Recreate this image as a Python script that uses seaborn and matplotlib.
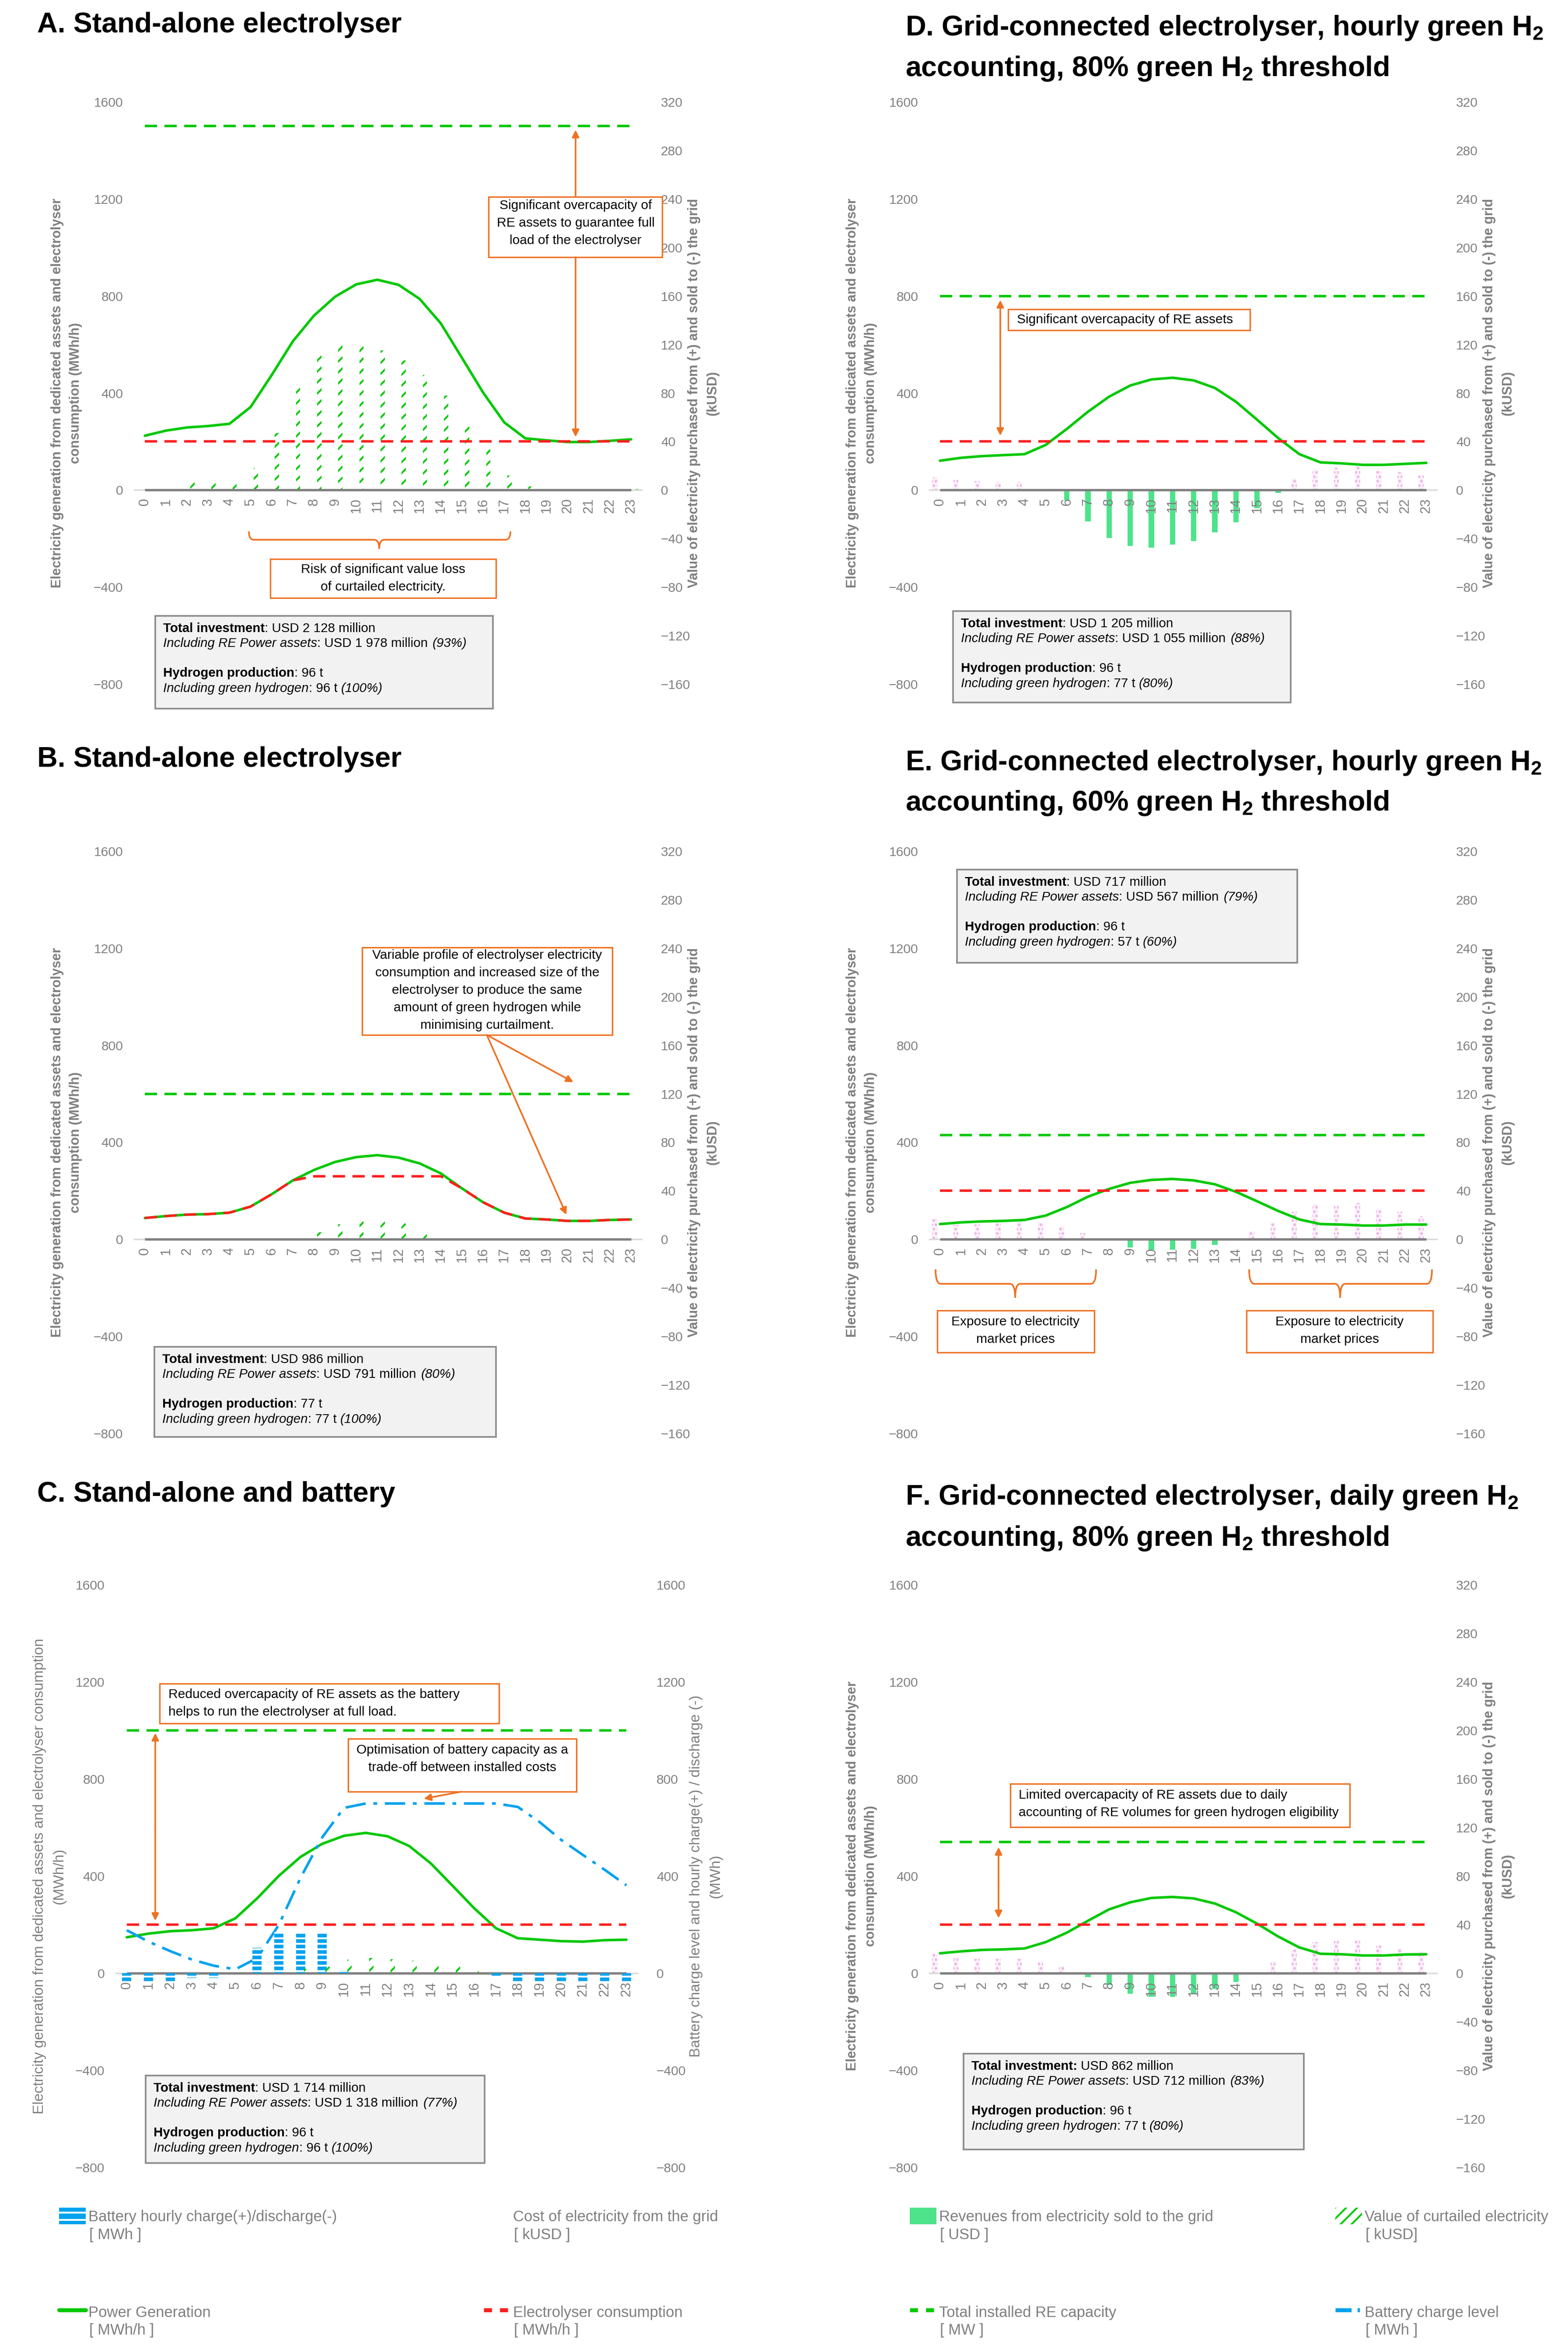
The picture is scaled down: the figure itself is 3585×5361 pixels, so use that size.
import numpy as np
import matplotlib
matplotlib.use("Agg")
import matplotlib.pyplot as plt
import matplotlib.transforms as mtransforms
from matplotlib.patches import Rectangle, Patch, PathPatch
from matplotlib.lines import Line2D
from matplotlib.path import Path
from matplotlib.text import Annotation
import seaborn as sns

# --- DATA ---
HOURS = np.arange(24)

# A. stand-alone electrolyser (MWh/h, kUSD)
GEN_A = [224, 245, 258, 264, 273, 342, 474, 613, 719, 797, 848, 867,
         846, 788, 687, 545, 402, 279, 213, 205, 198, 198, 203, 209]
CURT_A = [2, 1, 7, 7, 8, 18, 47, 87, 112, 122, 122, 115,
          107, 95, 78, 56, 35, 12, 3, 1, 0, 0, 0, 1]
CAP_A = 1500
CONS_A = 200

# B. stand-alone electrolyser, variable load
GEN_B = [88, 96, 102, 104, 110, 135, 186, 243, 286, 319, 339, 347,
         337, 313, 272, 210, 153, 110, 86, 82, 76, 76, 80, 82]
CONS_B = [88, 96, 102, 104, 110, 135, 186, 243, 260, 260, 260, 260,
          260, 260, 260, 210, 153, 110, 86, 82, 76, 76, 80, 82]
CURT_B = [0, 0, 0, 0, 0, 0, 0, 0, 6, 12.5, 15, 15,
          13, 6.7, 1, 0, 0, 0, 0, 0, 0, 0, 0, 0]
CAP_B = 600

# C. stand-alone and battery
GEN_C = [148, 163, 173, 177, 185, 226, 308, 401, 479, 533, 566, 578,
         564, 524, 452, 360, 267, 185, 144, 138, 132, 130, 136, 138]
BATT_LEVEL_C = [177, 130, 91, 56, 31, 16, 62, 199, 393, 560, 681, 699,
                699, 699, 699, 699, 699, 699, 685, 623, 549, 487, 426, 362]
BATT_CHARGE_C = [-40, -40, -40, -20, -20, 0, 105, 170, 170, 170, 12, 0,
                 0, 0, 0, 0, 0, -15, -40, -40, -40, -40, -40, -40]
CURT_C = [0, 0, 0, 0, 0, 0, 0, 0, 3.5, 5.5, 11, 12.5,
          11.5, 10.5, 6, 6, 1.6, 0, 0, 0, 0, 0, 0, 0]
CAP_C = 1000
CONS_C = 200

# D. grid-connected, hourly accounting, 80 %
GEN_D = [121, 133, 140, 144, 148, 186, 252, 323, 385, 431, 456, 463,
         452, 421, 364, 290, 214, 148, 114, 110, 104, 104, 108, 112]
COST_D = [10.6, 8.4, 7.2, 6.5, 6.5, 1, 0, 0, 0, 0, 0, 0,
          0, 0, 0, 0, 0, 9.5, 17, 18.6, 19.7, 16, 15, 12]
REV_D = [0, 0, 0, 0, 0, 0, -8.4, -26, -39.5, -46, -47.5, -45,
         -42, -35, -26.6, -15, -2.3, 0, 0, 0, 0, 0, 0, 0]
CAP_D = 800
CONS_D = 200

# E. grid-connected, hourly accounting, 60 %
GEN_E = [63, 70, 74, 76, 80, 98, 133, 176, 208, 233, 245, 249,
         243, 227, 196, 157, 117, 82, 63, 61, 57, 57, 61, 61]
COST_E = [17, 12, 12.5, 13.7, 15, 13.7, 11, 5, 0, 0, 0, 0,
          0, 0, 0, 6.7, 13.7, 23, 29, 28, 30, 25, 23, 19]
REV_E = [0, 0, 0, 0, 0, 0, 0, 0, -1, -6.7, -8.6, -8.6,
         -7.8, -4.7, 0, 0, 0, 0, 0, 0, 0, 0, 0, 0]
CAP_E = 430
CONS_E = 200

# F. grid-connected, daily accounting, 80 %
GEN_F = [82, 90, 96, 98, 102, 128, 167, 216, 263, 292, 310, 314,
         308, 287, 251, 204, 151, 106, 80, 78, 73, 73, 77, 78]
COST_F = [15.7, 13.7, 11.8, 11.8, 11.8, 9.8, 5.9, 0, 0, 0, 0, 0,
          0, 0, 0, 0, 9.8, 19.6, 25.5, 26.7, 27.5, 22.8, 20.4, 17.7]
REV_F = [0, 0, 0, 0, 0, 0, 0, -3.1, -9.8, -16.9, -19.6, -19.6,
         -16.5, -13, -7.1, 0, 0, 0, 0, 0, 0, 0, 0, 0]
CAP_F = 540
CONS_F = 200

# info boxes: total investment, RE assets, RE share, H2, green H2, green share
INV_TOTAL = ['2 128', '986', '1 714', '1 205', '717', '862']
INV_RE = ['1 978', '791', '1 318', '1 055', '567', '712']
INV_RE_PCT = ['93%', '80%', '77%', '88%', '79%', '83%']
H2_TOTAL = ['96', '77', '96', '96', '96', '96']
H2_GREEN = ['96', '77', '96', '77', '57', '77']
H2_GREEN_PCT = ['100%', '100%', '100%', '80%', '60%', '80%']

TITLES = {
    'A': ['A. Stand-alone electrolyser'],
    'B': ['B. Stand-alone electrolyser'],
    'C': ['C. Stand-alone and battery'],
    'D': ['D. Grid-connected electrolyser, hourly green H$_2$',
          'accounting, 80% green H$_2$ threshold'],
    'E': ['E. Grid-connected electrolyser, hourly green H$_2$',
          'accounting, 60% green H$_2$ threshold'],
    'F': ['F. Grid-connected electrolyser, daily green H$_2$',
          'accounting, 80% green H$_2$ threshold'],
}

LEGEND_LABELS = ['Battery hourly charge(+)/discharge(-)', 'Cost of electricity from the grid',
                 'Revenues from electricity sold to the grid', 'Value of curtailed electricity',
                 'Power Generation', 'Electrolyser consumption',
                 'Total installed RE capacity', 'Battery charge level']
LEGEND_UNITS = ['[ MWh ]', '[ kUSD ]', '[ USD ]', '[ kUSD]',
                '[ MWh/h ]', '[ MWh/h ]', '[ MW ]', '[ MWh ]']

# --- STYLE / LAYOUT (pixels of the 3585 x 5361 canvas) ---
W, H, DPI = 3585, 5361, 300
GRAY = '#7f7f7f'
GREEN = '#00c800'
RED = '#ff1f1f'
BLUE = '#00a2ee'
REV_GREEN = '#4de38b'
PINK_FACE = '#fbf1f9'
PINK_DOT = '#eeb6e6'
ORANGE = '#ee7122'
DASH = (0, (5, 3))
DASHDOT = (0, (8, 3, 1.5, 3))

AX_BOX = {'A': (307, 233, 1467, 1564), 'B': (307, 1946, 1467, 3277),
          'C': (265, 3623, 1457, 4955), 'D': (2125, 233, 3285, 1564),
          'E': (2125, 1946, 3285, 3277), 'F': (2125, 3623, 3285, 4955)}
TITLE_POS = {'A': (85, [74]), 'B': (85, [1753]), 'C': (85, [3433]),
             'D': (2070, [81, 174]), 'E': (2070, [1761, 1853]), 'F': (2070, [3440, 3534])}
INFO_BOX = {'A': (355, 1408, 1127, 1620), 'B': (353, 3079, 1134, 3285),
            'C': (333, 4745, 1108, 4945), 'D': (2179, 1397, 2951, 1606),
            'E': (2188, 1988, 2966, 2201), 'F': (2203, 4695, 2981, 4914)}

sns.set_theme(style="white")
plt.rcParams['font.family'] = ['Liberation Sans', 'DejaVu Sans']
plt.rcParams['mathtext.fontset'] = 'custom'
plt.rcParams['mathtext.rm'] = 'Liberation Sans:bold'
plt.rcParams['mathtext.it'] = 'Liberation Sans:italic:bold'
plt.rcParams['mathtext.bf'] = 'Liberation Sans:bold'
plt.rcParams['mathtext.default'] = 'rm'
plt.rcParams['hatch.linewidth'] = 1.0

fig = plt.figure(figsize=(W / DPI, H / DPI), dpi=DPI)
fig.patch.set_facecolor('white')
pix = mtransforms.Affine2D().scale(1 / W, -1 / H).translate(0, 1) + fig.transFigure


def setup_axes(key, right_lim, right_step):
    x0, y0, x1, y1 = AX_BOX[key]
    ax = fig.add_axes([x0 / W, 1 - y1 / H, (x1 - x0) / W, (y1 - y0) / H])
    ax.set_xlim(-0.5, 23.5)
    ax.set_ylim(-800, 1600)
    ax.set_yticks(np.arange(-800, 1601, 400))
    ax.set_xticks(HOURS)
    ax.set_xticklabels([str(h) for h in HOURS])
    for side in ['left', 'right', 'top']:
        ax.spines[side].set_visible(False)
    ax.spines['bottom'].set_position(('data', 0))
    ax.spines['bottom'].set_color('#d9d9d9')
    ax.spines['bottom'].set_linewidth(0.8)
    ax.tick_params(axis='x', length=0, pad=4.5, labelsize=7.4, labelcolor=GRAY,
                   labelrotation=90)
    ax.tick_params(axis='y', length=0, pad=6.2, labelsize=7.2, labelcolor=GRAY)
    ax.grid(False)

    tw = ax.twinx()
    tw.set_ylim(*right_lim)
    tw.set_yticks(np.arange(right_lim[0], right_lim[1] + 1, right_step))
    for s in tw.spines.values():
        s.set_visible(False)
    tw.tick_params(axis='y', length=0, pad=10.5, labelsize=7.2, labelcolor=GRAY)
    tw.grid(False)
    ax.set_zorder(tw.get_zorder() + 1)
    ax.patch.set_visible(False)
    ax.hlines(0, HOURS[0], HOURS[-1], color='#808080', lw=1.3, zorder=2.6)
    return ax, tw


def tidy(ax):
    ax.set_xlabel('')
    ax.set_ylabel('')
    ax.tick_params(axis='x', labelrotation=90)


def draw_lines(ax, gen, cons, cap):
    sns.lineplot(x=HOURS, y=[cap] * len(HOURS), ax=ax, color=GREEN, linewidth=1.35, linestyle=DASH)
    sns.lineplot(x=HOURS, y=gen, ax=ax, color=GREEN, linewidth=1.4)
    sns.lineplot(x=HOURS, y=cons, ax=ax, color=RED, linewidth=1.35, linestyle=DASH)
    tidy(ax)


def draw_curtailed(ax, curt):
    ax.bar(HOURS + 0.25, curt, width=0.2, facecolor='none', edgecolor=GREEN,
           hatch='////', linewidth=0)


def draw_grid_bars(ax, cost, rev):
    ax.bar(HOURS - 0.25, cost, width=0.24, facecolor=PINK_FACE, edgecolor=PINK_DOT,
           hatch='.....', linewidth=0)
    ax.bar(HOURS, rev, width=0.26, color=REV_GREEN, linewidth=0)


def ylabels(key, left, right, bold=True, size=7.4):
    x0, y0, x1, y1 = AX_BOX[key]
    cy = (y0 + y1) / 2
    lx = {'A': 152, 'B': 152, 'C': 113, 'D': 1970, 'E': 1970, 'F': 1970}[key]
    rx = {'A': 1608, 'B': 1608, 'C': 1614, 'D': 3426, 'E': 3426, 'F': 3426}[key]
    w = 'bold' if bold else 'normal'
    for x, s in [(lx, left), (rx, right)]:
        fig.text(x, cy, s, transform=pix, rotation=90, ha='center', va='center',
                 multialignment='center', fontsize=size, fontweight=w, color=GRAY,
                 linespacing=1.55)


def title(key):
    x, ys = TITLE_POS[key]
    for s, y in zip(TITLES[key], ys):
        fig.text(x, y, s, transform=pix, fontsize=15.5, fontweight='bold',
                 color='black', ha='left', va='baseline')


def rich_line(x, y, parts, size=7.1):
    prev = None
    for text, weight, style, gap in parts:
        kw = dict(fontsize=size, fontweight=weight, fontstyle=style, color='black')
        if prev is None:
            prev = fig.text(x, y, text, transform=pix, ha='left', va='baseline', **kw)
        else:
            prev = fig.add_artist(Annotation(text, xy=(1, 0), xycoords=prev, xytext=(gap, 0),
                                             textcoords='offset points', ha='left',
                                             va='bottom', **kw))


def info_box(key, i):
    x0, y0, x1, y1 = INFO_BOX[key]
    fig.add_artist(Rectangle((x0, y0), x1 - x0, y1 - y0, transform=pix,
                             facecolor='#f2f2f2', edgecolor='#8c8c8c', lw=0.9, zorder=1))
    tx = x0 + 18
    if key == 'F':
        first = [('Total investment:', 'bold', 'normal', 0),
                 ('USD %s million' % INV_TOTAL[i], 'normal', 'normal', 2.0)]
    else:
        first = [('Total investment', 'bold', 'normal', 0),
                 (': USD %s million' % INV_TOTAL[i], 'normal', 'normal', 0)]
    rich_line(tx, y0 + 37, first)
    rich_line(tx, y0 + 71, [('Including RE Power assets', 'normal', 'italic', 0),
                            (': USD %s million' % INV_RE[i], 'normal', 'normal', 0),
                            ('(%s)' % INV_RE_PCT[i], 'normal', 'italic', 2.6)])
    rich_line(tx, y0 + 139, [('Hydrogen production', 'bold', 'normal', 0),
                             (': %s t' % H2_TOTAL[i], 'normal', 'normal', 0)])
    rich_line(tx, y0 + 174, [('Including green hydrogen', 'normal', 'italic', 0),
                             (': %s t' % H2_GREEN[i], 'normal', 'normal', 0),
                             ('(%s)' % H2_GREEN_PCT[i], 'normal', 'italic', 2.0)])


def note(x0, y0, x1, y1, text, tx, ty, ha='center'):
    fig.add_artist(Rectangle((x0, y0), x1 - x0, y1 - y0, transform=pix,
                             facecolor='white', edgecolor=ORANGE, lw=0.8, zorder=1))
    fig.text(tx, ty, text, transform=pix, ha=ha, va='center', multialignment=ha,
             fontsize=7.2, color='black', linespacing=1.55)


def arrow(x0, y0, x1, y1, style='-|>'):
    fig.add_artist(Annotation('', xy=(x1, y1), xycoords=pix, xytext=(x0, y0), textcoords=pix,
                              arrowprops=dict(arrowstyle=style, color=ORANGE, lw=0.9,
                                              shrinkA=0, shrinkB=0, mutation_scale=8)))


def brace(x0, x1, ytop, ymid, xtip, ytip, r=12):
    verts = [(x0, ytop), (x0, ymid), (x0 + r, ymid), (xtip - r, ymid),
             (xtip, ymid), (xtip, ytip), (xtip, ymid), (xtip + r, ymid),
             (x1 - r, ymid), (x1, ymid), (x1, ytop)]
    codes = [Path.MOVETO, Path.CURVE3, Path.CURVE3, Path.LINETO,
             Path.CURVE3, Path.CURVE3, Path.CURVE3, Path.CURVE3,
             Path.LINETO, Path.CURVE3, Path.CURVE3]
    fig.add_artist(PathPatch(Path(verts, codes), transform=pix, fill=False,
                             edgecolor=ORANGE, lw=0.9))


LEFT_LABEL = 'Electricity generation from dedicated assets and electrolyser\nconsumption (MWh/h)'
RIGHT_LABEL = 'Value of electricity purchased from (+) and sold to (-) the grid\n(kUSD)'

# --- A ---
ax, tw = setup_axes('A', (-160, 320), 40)
draw_curtailed(tw, CURT_A)
draw_lines(ax, GEN_A, [CONS_A] * 24, CAP_A)
ylabels('A', LEFT_LABEL, RIGHT_LABEL)
title('A')
info_box('A', 0)
note(1117, 450, 1514, 588, 'Significant overcapacity of\nRE assets to guarantee full\nload of the electrolyser',
     1316, 510)
arrow(1316, 450, 1316, 297)
arrow(1316, 588, 1316, 999)
brace(569, 1167, 1215, 1234, 867, 1255)
note(618, 1278, 1134, 1367, 'Risk of significant value loss\nof curtailed electricity.', 876, 1322)

# --- B ---
ax, tw = setup_axes('B', (-160, 320), 40)
draw_curtailed(tw, CURT_B)
draw_lines(ax, GEN_B, CONS_B, CAP_B)
ylabels('B', LEFT_LABEL, RIGHT_LABEL)
title('B')
info_box('B', 1)
note(828, 2166, 1400, 2366,
     'Variable profile of electrolyser electricity\nconsumption and increased size of the\n'
     'electrolyser to produce the same\namount of green hydrogen while\nminimising curtailment.',
     1114, 2264)
arrow(1113, 2366, 1311, 2474)
arrow(1113, 2366, 1295, 2777)

# --- C ---
ax, tw = setup_axes('C', (-800, 1600), 400)
tw3 = ax.twinx()
tw3.set_ylim(-160, 320)
tw3.axis('off')
draw_curtailed(tw3, CURT_C)
ax.bar(HOURS, BATT_CHARGE_C, width=0.42, facecolor=BLUE, edgecolor='white',
       hatch='----', linewidth=0, zorder=3)
draw_lines(ax, GEN_C, [CONS_C] * 24, CAP_C)
sns.lineplot(x=HOURS, y=BATT_LEVEL_C, ax=ax, color=BLUE, linewidth=1.4, linestyle=DASHDOT)
tidy(ax)
ylabels('C', 'Electricity generation from dedicated assets and electrolyser consumption\n(MWh/h)',
        'Battery charge level and hourly charge(+) / discharge (-)\n(MWh)', bold=False, size=8.0)
title('C')
info_box('C', 2)
note(365, 3849, 1141, 3940,
     'Reduced overcapacity of RE assets as the battery\nhelps to run the electrolyser at full load.',
     385, 3894, ha='left')
arrow(355, 4177, 355, 3962)
arrow(355, 4177, 355, 4391)
note(796, 3975, 1318, 4096, 'Optimisation of battery capacity as a\ntrade-off between installed costs',
     1057, 4021)
arrow(1055, 4096, 969, 4112)

# --- D ---
ax, tw = setup_axes('D', (-160, 320), 40)
draw_grid_bars(tw, COST_D, REV_D)
draw_lines(ax, GEN_D, [CONS_D] * 24, CAP_D)
ylabels('D', LEFT_LABEL, RIGHT_LABEL)
title('D')
info_box('D', 3)
note(2305, 707, 2858, 755, 'Significant overcapacity of RE assets', 2325, 731, ha='left')
arrow(2287, 841, 2287, 686)
arrow(2287, 841, 2287, 996)

# --- E ---
ax, tw = setup_axes('E', (-160, 320), 40)
draw_grid_bars(tw, COST_E, REV_E)
draw_lines(ax, GEN_E, [CONS_E] * 24, CAP_E)
ylabels('E', LEFT_LABEL, RIGHT_LABEL)
title('E')
info_box('E', 4)
brace(2139, 2506, 2902, 2935, 2321, 2967)
brace(2856, 3274, 2902, 2935, 3064, 2967)
note(2143, 2996, 2502, 3092, 'Exposure to electricity\nmarket prices', 2322, 3042)
note(2850, 2996, 3276, 3092, 'Exposure to electricity\nmarket prices', 3063, 3042)

# --- F ---
ax, tw = setup_axes('F', (-160, 320), 40)
draw_grid_bars(tw, COST_F, REV_F)
draw_lines(ax, GEN_F, [CONS_F] * 24, CAP_F)
ylabels('F', LEFT_LABEL, RIGHT_LABEL)
title('F')
info_box('F', 5)
note(2310, 4078, 3086, 4177,
     'Limited overcapacity of RE assets due to daily\naccounting of RE volumes for green hydrogen eligibility',
     2329, 4124, ha='left')
arrow(2283, 4304, 2283, 4223)
arrow(2283, 4304, 2283, 4385)

# --- legend ---
handles = [
    Patch(facecolor=BLUE, edgecolor='white', hatch='---', linewidth=0),
    Patch(facecolor='none', edgecolor='none', linewidth=0),
    Patch(facecolor=REV_GREEN, linewidth=0),
    Patch(facecolor='none', edgecolor=GREEN, hatch='////', linewidth=0),
    Line2D([], [], color=GREEN, lw=2.2),
    Line2D([], [], color=RED, lw=2.2, linestyle=(0, (2, 2))),
    Line2D([], [], color=GREEN, lw=2.2, linestyle=(0, (2, 2))),
    Line2D([], [], color=BLUE, lw=2.2, linestyle=(0, (4, 1.5, 0.6, 1.5))),
]
COL_X = [135, 1106, 2080, 3053]
ROW_Y = [5066, 5285]
for i, (h, lab, unit) in enumerate(zip(handles, LEGEND_LABELS, LEGEND_UNITS)):
    hx = COL_X[i % 4]
    hy = ROW_Y[i // 4]
    fig.legend(handles=[h], labels=[lab], loc='center left',
               bbox_to_anchor=(hx / W, 1 - hy / H), frameon=False, borderpad=0,
               borderaxespad=0, handlelength=1.75, handleheight=1.3, handletextpad=0.2,
               fontsize=8.3, labelcolor=GRAY)
    fig.text(hx + 69, hy + 43, unit, transform=pix, ha='left', va='center',
             fontsize=8.3, color=GRAY)

fig.savefig('out.png', dpi=DPI, facecolor='white')
